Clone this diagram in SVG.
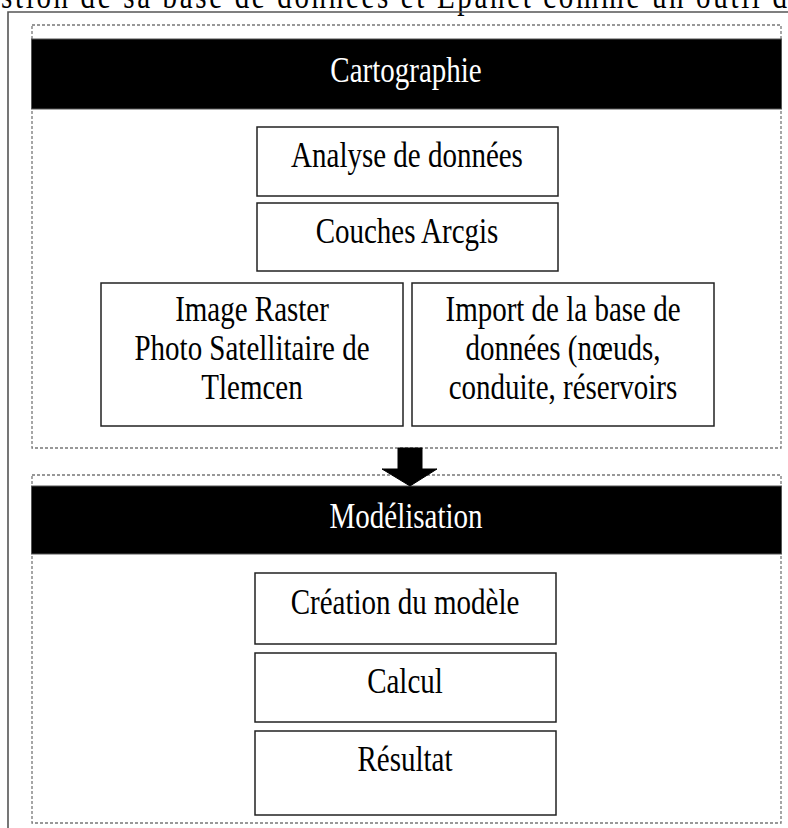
<svg xmlns="http://www.w3.org/2000/svg" width="788" height="828" viewBox="0 0 788 828">
  <style>
    .txt { font-family: "Liberation Serif", "Times New Roman", serif; font-size: 29px; text-anchor: middle; fill: #000; }
    .hdr { fill: #fff; }
    .box { fill: #fff; stroke: #222; stroke-width: 1.5; }
    .band { fill: #000; stroke: #555; stroke-width: 1; }
    .zone { fill: none; stroke: #777; stroke-width: 1.3; stroke-dasharray: 3 2; }
    .frame { fill: none; stroke: #555; stroke-width: 1.6; }
  </style>

  <rect width="788" height="828" fill="#fff"/>

  <!-- running text line above the figure -->
  <text class="txt" style="text-anchor:start" x="1" y="0" transform="translate(0,8) scale(1,1.2)" textLength="786" lengthAdjust="spacing">stion de sa base de données et Epanet comme un outil d</text>

  <!-- figure frame -->
  <path class="frame" d="M8,828 V12 H790"/>

  <!-- Cartographie stage -->
  <g id="cartographie">
    <rect class="zone" x="32" y="25" width="749" height="423"/>
    <rect class="band" x="31.5" y="39" width="750" height="70"/>
    <text class="txt hdr" transform="translate(406,82) scale(1,1.2)">Cartographie</text>
  </g>

  <g id="analyse">
    <rect class="box" x="257" y="127" width="301" height="69"/>
    <text class="txt" transform="translate(407,167) scale(1,1.2)">Analyse de données</text>
  </g>

  <g id="couches">
    <rect class="box" x="257" y="203" width="301" height="68"/>
    <text class="txt" transform="translate(407,243) scale(1,1.2)">Couches Arcgis</text>
  </g>

  <g id="raster">
    <rect class="box" x="101" y="283" width="302" height="143"/>
    <text class="txt" transform="translate(252,321) scale(1,1.2)">Image Raster</text>
    <text class="txt" transform="translate(252,360) scale(1,1.2)">Photo Satellitaire de</text>
    <text class="txt" transform="translate(252,399) scale(1,1.2)">Tlemcen</text>
  </g>

  <g id="import">
    <rect class="box" x="412" y="283" width="302" height="143"/>
    <text class="txt" transform="translate(563,321) scale(1,1.2)">Import de la base de</text>
    <text class="txt" transform="translate(563,360) scale(1,1.2)">données (nœuds,</text>
    <text class="txt" transform="translate(563,399) scale(1,1.2)">conduite, réservoirs</text>
  </g>

  <!-- Modélisation stage -->
  <g id="modelisation">
    <rect class="zone" x="32" y="475" width="749" height="348"/>
    <rect class="band" x="31.5" y="486" width="750" height="68"/>
    <text class="txt hdr" transform="translate(406,528) scale(1,1.2)">Modélisation</text>
  </g>

  <g id="creation">
    <rect class="box" x="255" y="573" width="301" height="71"/>
    <text class="txt" transform="translate(405,614) scale(1,1.2)">Création du modèle</text>
  </g>

  <g id="calcul">
    <rect class="box" x="255" y="653" width="301" height="69"/>
    <text class="txt" transform="translate(405,693) scale(1,1.2)">Calcul</text>
  </g>

  <g id="resultat">
    <rect class="box" x="255" y="731" width="301" height="84"/>
    <text class="txt" transform="translate(405,771) scale(1,1.2)">Résultat</text>
  </g>

  <!-- connectors -->
  <g id="connectors">
    <path d="M398,448 H422 V469 H437 L410,486 L382,469 H398 Z" fill="#000" stroke="#000" stroke-width="1"/>
  </g>
</svg>
